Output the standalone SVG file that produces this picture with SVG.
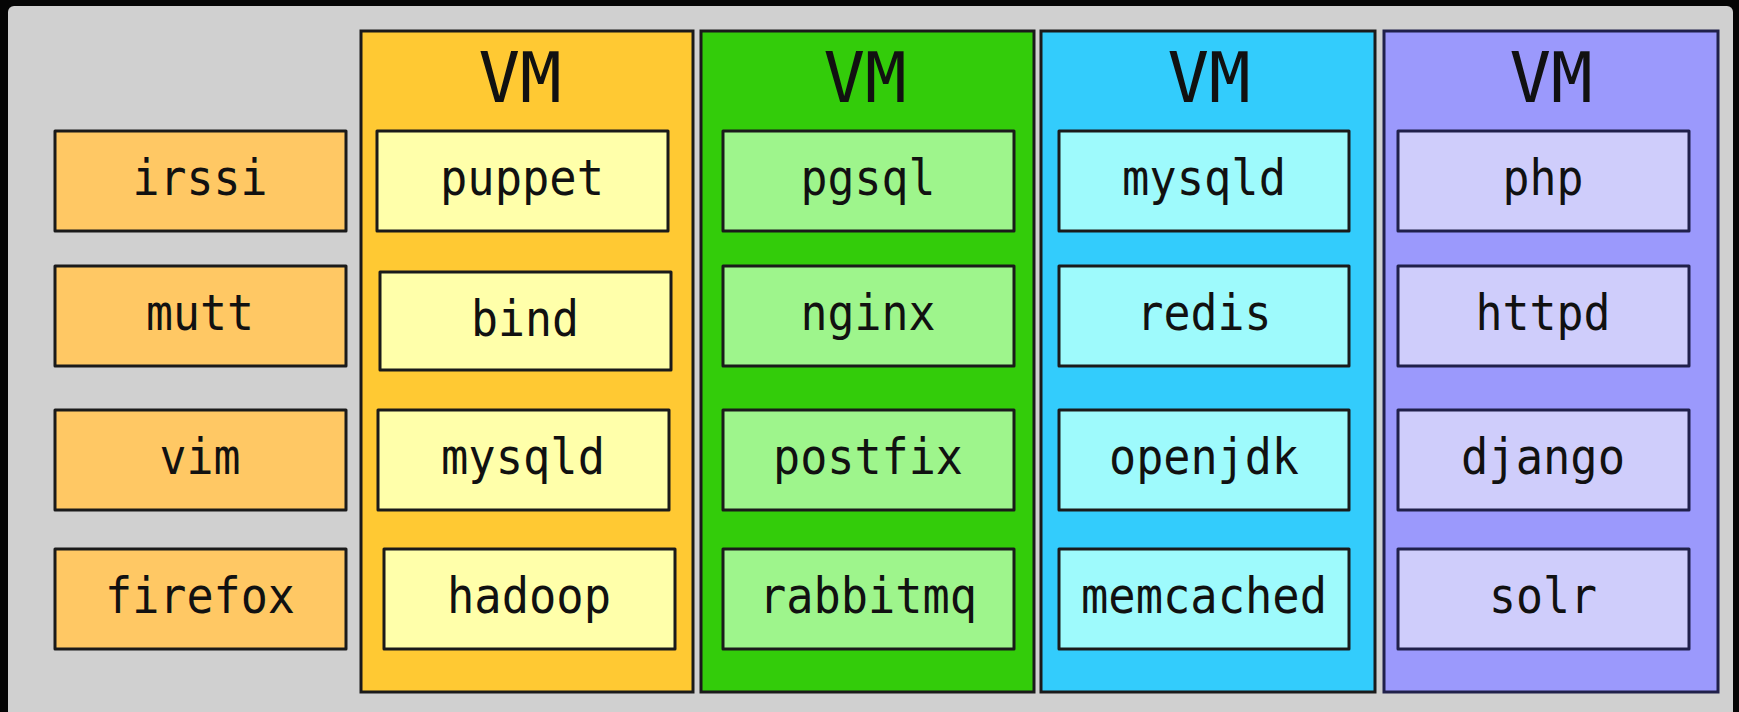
<svg xmlns="http://www.w3.org/2000/svg" width="1739" height="712" viewBox="0 0 1739 712">
<style>
.box{stroke:#1a1a1a;stroke-width:3;stroke-linejoin:round}
.vm{stroke:#1a1a1a;stroke-width:3}
.lbl{font-family:"DejaVu Sans Mono","Liberation Mono",monospace;font-size:50px;fill:#111;text-anchor:middle}
.ttl{font-family:"DejaVu Sans Mono","Liberation Mono",monospace;font-size:69px;fill:#111;text-anchor:middle}
.host{fill:#ffc864}
.y1{fill:#ffc933}.y2{fill:#ffffaa}
.g1{fill:#33cc0a}.g2{fill:#9ef58c}
.b1{fill:#33ccfc}.b2{fill:#9efafc}
.p1{fill:#9b99fc}.p2{fill:#cfcdfb}
.pv{stroke:#20204a}
</style>
<rect x="0" y="0" width="1739" height="712" fill="#050505"/>
<rect x="8" y="6" width="1725" height="712" rx="6" fill="#d0d0d0"/>
<g id="host-apps">
<g id="irssi"><rect class="box host" x="55" y="131" width="291" height="100"/><text class="lbl" x="200" y="195" textLength="135" lengthAdjust="spacingAndGlyphs">irssi</text></g>
<g id="mutt"><rect class="box host" x="55" y="266" width="291" height="100"/><text class="lbl" x="200" y="330" textLength="108" lengthAdjust="spacingAndGlyphs">mutt</text></g>
<g id="vim"><rect class="box host" x="55" y="410" width="291" height="100"/><text class="lbl" x="200" y="474" textLength="81" lengthAdjust="spacingAndGlyphs">vim</text></g>
<g id="firefox"><rect class="box host" x="55" y="549" width="291" height="100"/><text class="lbl" x="200" y="613" textLength="190" lengthAdjust="spacingAndGlyphs">firefox</text></g>
</g>
<g id="vm1">
<rect class="vm y1" x="361" y="31" width="332" height="661"/>
<text class="ttl" x="520" y="102">VM</text>
<g id="vm1-puppet"><rect class="box y2" x="377" y="131" width="291" height="100"/><text class="lbl" x="522" y="195" textLength="164" lengthAdjust="spacingAndGlyphs">puppet</text></g>
<g id="vm1-bind"><rect class="box y2" x="380" y="272" width="291" height="98"/><text class="lbl" x="525" y="336" textLength="108" lengthAdjust="spacingAndGlyphs">bind</text></g>
<g id="vm1-mysqld"><rect class="box y2" x="378" y="410" width="291" height="100"/><text class="lbl" x="523" y="474" textLength="164" lengthAdjust="spacingAndGlyphs">mysqld</text></g>
<g id="vm1-hadoop"><rect class="box y2" x="384" y="549" width="291" height="100"/><text class="lbl" x="529" y="613" textLength="164" lengthAdjust="spacingAndGlyphs">hadoop</text></g>
</g>
<g id="vm2">
<rect class="vm g1" x="701" y="31" width="333" height="661"/>
<text class="ttl" x="865" y="102">VM</text>
<g id="vm2-pgsql"><rect class="box g2" x="723" y="131" width="291" height="100"/><text class="lbl" x="868" y="195" textLength="135" lengthAdjust="spacingAndGlyphs">pgsql</text></g>
<g id="vm2-nginx"><rect class="box g2" x="723" y="266" width="291" height="100"/><text class="lbl" x="868" y="330" textLength="135" lengthAdjust="spacingAndGlyphs">nginx</text></g>
<g id="vm2-postfix"><rect class="box g2" x="723" y="410" width="291" height="100"/><text class="lbl" x="868" y="474" textLength="190" lengthAdjust="spacingAndGlyphs">postfix</text></g>
<g id="vm2-rabbitmq"><rect class="box g2" x="723" y="549" width="291" height="100"/><text class="lbl" x="868" y="613" textLength="218" lengthAdjust="spacingAndGlyphs">rabbitmq</text></g>
</g>
<g id="vm3">
<rect class="vm b1" x="1041" y="31" width="334" height="661"/>
<text class="ttl" x="1209" y="102">VM</text>
<g id="vm3-mysqld"><rect class="box b2" x="1059" y="131" width="290" height="100"/><text class="lbl" x="1204" y="195" textLength="164" lengthAdjust="spacingAndGlyphs">mysqld</text></g>
<g id="vm3-redis"><rect class="box b2" x="1059" y="266" width="290" height="100"/><text class="lbl" x="1204" y="330" textLength="135" lengthAdjust="spacingAndGlyphs">redis</text></g>
<g id="vm3-openjdk"><rect class="box b2" x="1059" y="410" width="290" height="100"/><text class="lbl" x="1204" y="474" textLength="190" lengthAdjust="spacingAndGlyphs">openjdk</text></g>
<g id="vm3-memcached"><rect class="box b2" x="1059" y="549" width="290" height="100"/><text class="lbl" x="1204" y="613" textLength="246" lengthAdjust="spacingAndGlyphs">memcached</text></g>
</g>
<g id="vm4">
<rect class="vm p1 pv" x="1384" y="31" width="334" height="661"/>
<text class="ttl" x="1551" y="102">VM</text>
<g id="vm4-php"><rect class="box p2 pv" x="1398" y="131" width="291" height="100"/><text class="lbl" x="1543" y="195" textLength="81" lengthAdjust="spacingAndGlyphs">php</text></g>
<g id="vm4-httpd"><rect class="box p2 pv" x="1398" y="266" width="291" height="100"/><text class="lbl" x="1543" y="330" textLength="135" lengthAdjust="spacingAndGlyphs">httpd</text></g>
<g id="vm4-django"><rect class="box p2 pv" x="1398" y="410" width="291" height="100"/><text class="lbl" x="1543" y="474" textLength="164" lengthAdjust="spacingAndGlyphs">django</text></g>
<g id="vm4-solr"><rect class="box p2 pv" x="1398" y="549" width="291" height="100"/><text class="lbl" x="1543" y="613" textLength="108" lengthAdjust="spacingAndGlyphs">solr</text></g>
</g>
<g id="connectors"/>
</svg>
